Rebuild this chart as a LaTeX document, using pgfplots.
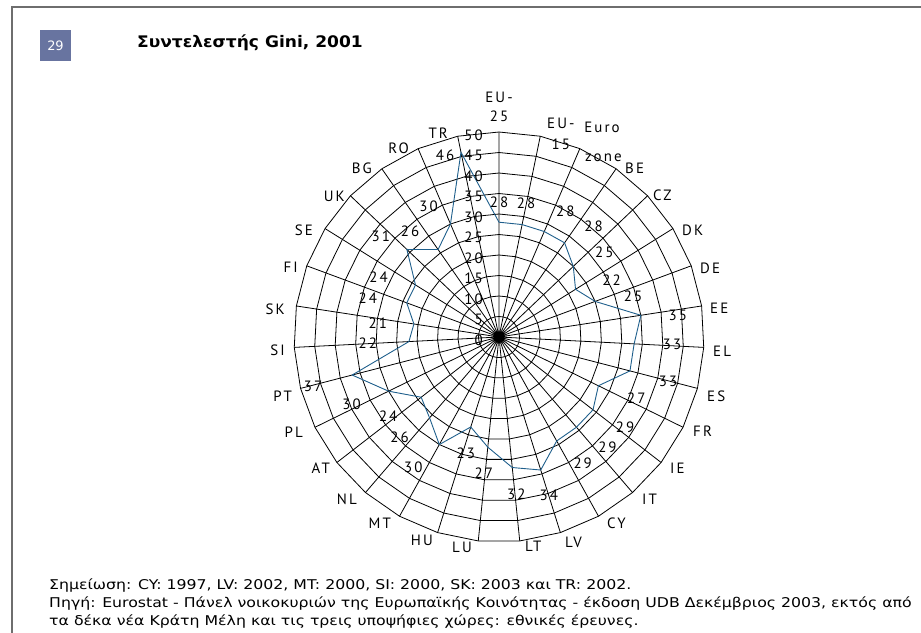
\documentclass[border=0pt]{standalone}
\usepackage{fontspec}
\setmainfont{DejaVu Sans}
\newfontfamily\notefont[FakeStretch=1.17]{DejaVu Sans}
\newfontfamily\titlefont[FakeStretch=1.07]{DejaVu Sans Bold}
\newfontfamily\chartfont[LetterSpace=14]{PT Sans}
\usepackage{pgfplots}
\pgfplotsset{compat=1.18}
\usepackage{pgfplotstable}
\usepgfplotslibrary{polar}
\definecolor{framegray}{RGB}{110,110,110}
\definecolor{numbox}{RGB}{104,116,160}
\definecolor{series}{RGB}{31,95,140}
\newcommand{\cfont}{\chartfont\fontsize{15}{15}\selectfont}

% i = spoke index (clockwise from top), v = Gini value, dx dy = label offset (px)
\pgfplotstableread{
i v dx dy
0 28 0 -20
1 28 4 -21
2 28 21 -20
3 28 29 -17
4 25 31 -14
5 22 36 -9
6 25 38 -5
7 35 37 0
8 33 38 1
9 33 38 10
10 27 38 12
11 29 32 17
12 29 31 20
13 29 26 22
14 34 8 25
15 32 4 27
16 27 -4 26
17 23 -5 26
18 30 -26 23
19 26 -30 19
20 24 -33 19
21 30 -37 13
22 37 -39 11
23 22 -41 2
24 21 -36 -1
25 24 -39 -5
26 24 -37 -8
27 31 -26 -13
28 26 -28 -18
29 30 -22 -18
30 46 -16 3
31 28 0 -20
}\gini

\pgfplotstableread{
i o
0 0
0 1
1 0
1 1
2 0
2 1
3 0
3 1
4 0
4 1
5 0
5 1
6 0
6 1
7 0
7 1
8 0
8 1
9 0
9 1
10 0
10 1
11 0
11 1
12 0
12 1
13 0
13 1
14 0
14 1
15 0
15 1
16 0
16 1
17 0
17 1
18 0
18 1
19 0
19 1
20 0
20 1
21 0
21 1
22 0
22 1
23 0
23 1
24 0
24 1
25 0
25 1
26 0
26 1
27 0
27 1
28 0
28 1
29 0
29 1
30 0
30 1
}\spokes

\begin{document}
\begin{tikzpicture}
\path[use as bounding box] (0,0) rectangle (921bp,-633bp);
% frame
\draw[framegray, line width=2bp] (12bp,-633bp) -- (12bp,-7bp) -- (921bp,-7bp);
% number box + title
\fill[numbox] (40bp,-30bp) rectangle (71bp,-61bp);
\node[text=white, font=\fontsize{13}{13}\selectfont] at (55.5bp,-45.5bp) {29};
\node[anchor=base west, inner sep=0, font=\titlefont\fontsize{16}{16}\selectfont] at (137bp,-47bp) {Συντελεστής Gini, 2001};

\begin{axis}[at={(294bp,-542bp)}, anchor=south west, x=4.1bp, y=4.1bp,
  xmin=-50, xmax=50, ymin=-50, ymax=50, hide axis, clip=false,
  /pgf/number format/assume math mode=true]
\pgfplotsinvokeforeach{5,10,...,50}{
  \addplot[black, line width=0.8bp, data cs=polar, mark=none]
    table[x expr={90-\thisrow{i}*360/31}, y expr=#1]{\gini};
}
\addplot[black, line width=0.8bp, data cs=polar, mark=none]
  table[x expr={90-\thisrow{i}*360/31}, y expr={50*\thisrow{o}}]{\spokes};
\addplot[series, line width=0.9bp, data cs=polar, mark=none]
  table[x expr={90-\thisrow{i}*360/31}, y=v]{\gini};
\addplot[draw=none, mark=none,
  nodes near coords, point meta=explicit,
  every node near coord/.append style={anchor=center, inner sep=0pt, text=black,
    font=\cfont},
  skip coords between index={31}{32}]
  table[x expr={\thisrow{v}*sin(\thisrow{i}*360/31)+\thisrow{dx}/4.1},
        y expr={\thisrow{v}*cos(\thisrow{i}*360/31)-\thisrow{dy}/4.1}, meta=v]{\gini};
\end{axis}

% radial tick labels
\foreach \r in {0,5,...,50}
  \node[anchor=east, inner sep=0pt, font=\cfont]
    at (483bp,{(4.1*\r-340)*1bp}) {\r};

% category labels
\begin{scope}[every node/.style={inner sep=0pt, font=\cfont}]
\node[anchor=south, align=center, font=\chartfont\fontsize{15}{19}\selectfont] at (499bp,-122bp) {EU-\\25};
\node[anchor=west, align=center, font=\chartfont\fontsize{15}{21}\selectfont] at (547bp,-134bp) {EU-\\15};
\node[anchor=center] at (602bp,-127bp) {Euro};
\node[anchor=west] at (585bp,-158bp) {zone};
\node[anchor=west] at (625bp,-168bp) {BE};
\node[anchor=west] at (653bp,-195bp) {CZ};
\node[anchor=west] at (682bp,-230bp) {DK};
\node[anchor=west] at (700bp,-268bp) {DE};
\node[anchor=west] at (710bp,-308bp) {EE};
\node[anchor=west] at (713bp,-351bp) {EL};
\node[anchor=west] at (707bp,-396bp) {ES};
\node[anchor=west] at (693bp,-431bp) {FR};
\node[anchor=west] at (670bp,-468bp) {IE};
\node[anchor=west] at (642bp,-499bp) {IT};
\node[anchor=west] at (607bp,-523bp) {CY};
\node[anchor=west] at (565bp,-542bp) {LV};
\node[anchor=west] at (525bp,-546bp) {LT};
\node[anchor=east] at (472bp,-547bp) {LU};
\node[anchor=east] at (433bp,-540bp) {HU};
\node[anchor=east] at (391bp,-523bp) {MT};
\node[anchor=east] at (357bp,-499bp) {NL};
\node[anchor=east] at (330bp,-468bp) {AT};
\node[anchor=east] at (303bp,-432bp) {PL};
\node[anchor=east] at (292bp,-396bp) {PT};
\node[anchor=east] at (285bp,-350bp) {SI};
\node[anchor=east] at (285bp,-309bp) {SK};
\node[anchor=east] at (298bp,-267bp) {FI};
\node[anchor=east] at (313bp,-230bp) {SE};
\node[anchor=east] at (345bp,-196bp) {UK};
\node[anchor=east] at (372bp,-168bp) {BG};
\node[anchor=east] at (409bp,-148bp) {RO};
\node[anchor=east] at (448bp,-133bp) {TR};
\end{scope}

% notes
\begin{scope}[every node/.style={anchor=base west, inner sep=0pt, font=\notefont\fontsize{13.5}{13.5}\selectfont}]
\node at (49bp,-589bp) {Σημείωση: CY: 1997, LV: 2002, MT: 2000, SI: 2000, SK: 2003 και TR: 2002.};
\node at (49bp,-607bp) {Πηγή: Eurostat - Πάνελ νοικοκυριών της Ευρωπαϊκής Κοινότητας - έκδοση UDB Δεκέμβριος 2003, εκτός από};
\node at (49bp,-625bp) {τα δέκα νέα Κράτη Μέλη και τις τρεις υποψήφιες χώρες: εθνικές έρευνες.};
\end{scope}
\end{tikzpicture}
\end{document}
